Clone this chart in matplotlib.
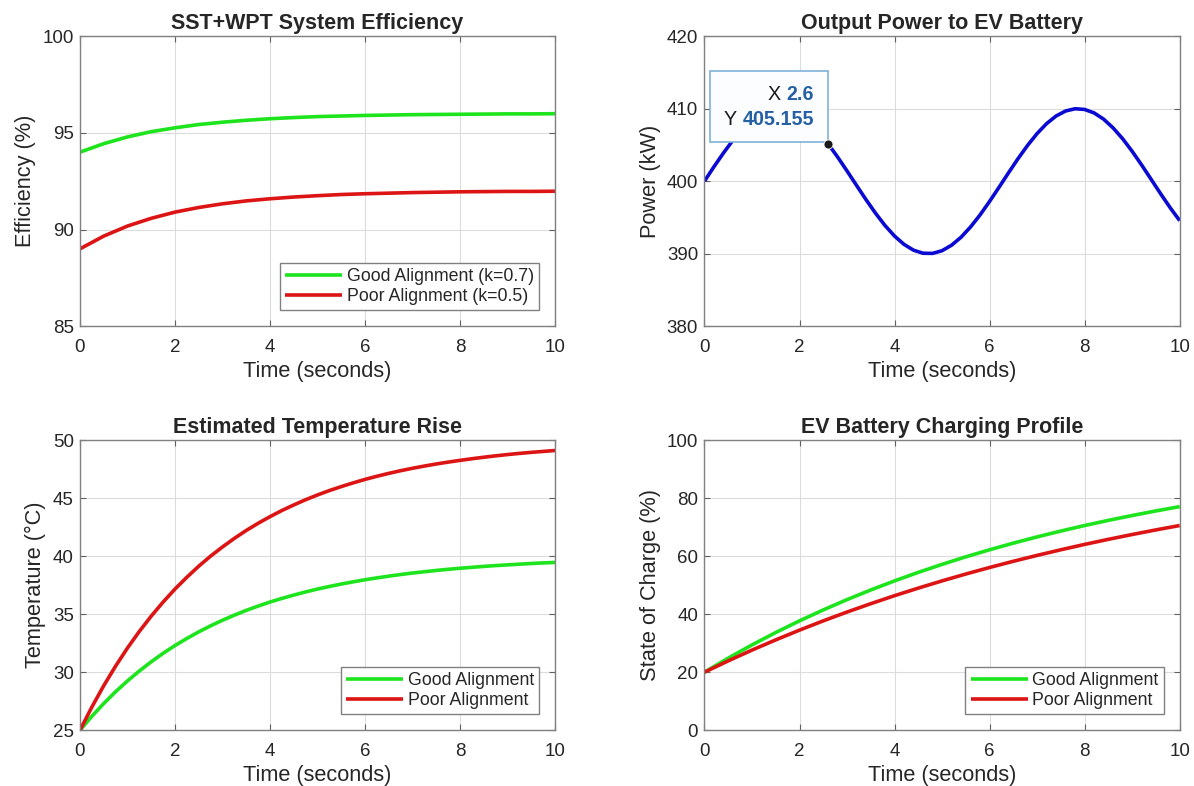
import matplotlib
matplotlib.use("Agg")
import matplotlib.pyplot as plt
from matplotlib.offsetbox import TextArea, HPacker, VPacker, AnnotationBbox

plt.rcParams['font.family'] = ['Liberation Sans', 'DejaVu Sans']

# time axes (seconds)
t_half = [0, 0.5, 1, 1.5, 2, 2.5, 3, 3.5, 4, 4.5, 5, 5.5, 6, 6.5, 7, 7.5, 8, 8.5, 9, 9.5, 10]
t_quarter = [0, 0.25, 0.5, 0.75, 1, 1.25, 1.5, 1.75, 2, 2.25, 2.5, 2.75, 3, 3.25, 3.5, 3.75,
             4, 4.25, 4.5, 4.75, 5, 5.25, 5.5, 5.75, 6, 6.25, 6.5, 6.75, 7, 7.25, 7.5, 7.75,
             8, 8.25, 8.5, 8.75, 9, 9.25, 9.5, 9.75, 10]
t_fifth = [0, 0.2, 0.4, 0.6, 0.8, 1.0, 1.2, 1.4, 1.6, 1.8, 2.0, 2.2, 2.4, 2.6, 2.8, 3.0, 3.2,
           3.4, 3.6, 3.8, 4.0, 4.2, 4.4, 4.6, 4.8, 5.0, 5.2, 5.4, 5.6, 5.8, 6.0, 6.2, 6.4,
           6.6, 6.8, 7.0, 7.2, 7.4, 7.6, 7.8, 8.0, 8.2, 8.4, 8.6, 8.8, 9.0, 9.2, 9.4, 9.6,
           9.8, 10.0]

# efficiency (%)
eff_good = [94.00, 94.44, 94.79, 95.06, 95.26, 95.43, 95.55, 95.65, 95.73, 95.79, 95.84,
            95.87, 95.90, 95.92, 95.94, 95.95, 95.96, 95.97, 95.98, 95.98, 95.99]
eff_poor = [89.00, 89.66, 90.18, 90.58, 90.90, 91.14, 91.33, 91.48, 91.59, 91.68, 91.75,
            91.81, 91.85, 91.88, 91.91, 91.93, 91.95, 91.96, 91.97, 91.97, 91.98]

# output power (kW)
power = [400.00, 401.99, 403.89, 405.65, 407.17, 408.41, 409.32, 409.85, 410.00, 409.74,
         409.09, 408.09, 406.76, 405.16, 403.35, 401.41, 399.42, 397.45, 395.58, 393.88,
         392.43, 391.28, 390.48, 390.06, 390.04, 390.41, 391.17, 392.27, 393.69, 395.35,
         397.21, 399.17, 401.17, 403.12, 404.94, 406.57, 407.94, 408.99, 409.68, 409.99,
         409.89, 409.41, 408.55, 407.34, 405.85, 404.12, 402.23, 400.25, 398.26, 396.34,
         394.56]
tip_x, tip_y = 2.6, 405.155

# temperature (degC)
temp_good = [25.00, 26.20, 27.30, 28.32, 29.25, 30.11, 30.90, 31.63, 32.30, 32.91, 33.48,
             34.00, 34.48, 34.92, 35.33, 35.70, 36.05, 36.36, 36.65, 36.92, 37.17, 37.39,
             37.60, 37.79, 37.97, 38.13, 38.28, 38.42, 38.55, 38.66, 38.77, 38.87, 38.96,
             39.04, 39.12, 39.19, 39.25, 39.31, 39.37, 39.42, 39.46]
temp_poor = [25.00, 27.00, 28.84, 30.53, 32.09, 33.52, 34.84, 36.05, 37.17, 38.19, 39.14,
             40.01, 40.80, 41.54, 42.22, 42.84, 43.41, 43.94, 44.42, 44.87, 45.28, 45.66,
             46.00, 46.32, 46.62, 46.89, 47.14, 47.37, 47.58, 47.77, 47.95, 48.11, 48.26,
             48.40, 48.53, 48.65, 48.76, 48.86, 48.95, 49.03, 49.11]

# state of charge (%)
soc_good = [20.00, 24.85, 29.40, 33.68, 37.70, 41.47, 45.02, 48.35, 51.48, 54.42, 57.18,
            59.78, 62.21, 64.50, 66.65, 68.67, 70.57, 72.35, 74.02, 75.60, 77.08]
soc_poor = [20.00, 23.90, 27.62, 31.14, 34.50, 37.70, 40.74, 43.62, 46.38, 48.99, 51.48,
            53.85, 56.10, 58.24, 60.27, 62.21, 64.06, 65.81, 67.47, 69.06, 70.57]

GREEN = '#1de41d'
RED = '#dc1414'
BLUE = '#0a0ad2'
TXT = '#262626'

fig = plt.figure(figsize=(11.94, 7.86), dpi=100)
W, H = 0.398, 0.369
ax1 = fig.add_axes([0.067, 0.585, W, H])
ax2 = fig.add_axes([0.590, 0.585, W, H])
ax3 = fig.add_axes([0.067, 0.071, W, H])
ax4 = fig.add_axes([0.590, 0.071, W, H])


def style(ax, title, ylabel, ylim, yticks):
    ax.set_xlim(0, 10)
    ax.set_ylim(*ylim)
    ax.set_xticks([0, 2, 4, 6, 8, 10])
    ax.set_yticks(yticks)
    ax.grid(True, color='#dcdcdc', linewidth=0.8)
    ax.set_axisbelow(True)
    for s in ax.spines.values():
        s.set_color('#808080')
        s.set_linewidth(1.0)
    ax.tick_params(direction='in', length=4, width=0.8, color='#606060',
                   labelsize=13.5, labelcolor=TXT, top=True, right=True)
    ax.tick_params(axis='x', pad=9)
    ax.tick_params(axis='y', pad=4.5)
    ax.set_title(title, fontsize=15.5, fontweight='bold', color=TXT, pad=5.5)
    ax.set_xlabel('Time (seconds)', fontsize=15.7, color=TXT, labelpad=4)
    ax.set_ylabel(ylabel, fontsize=15.7, color=TXT, labelpad=4.5)


def legend(ax):
    leg = ax.legend(loc='lower right', fontsize=12.8, fancybox=False, framealpha=1,
                    edgecolor='#808080', handlelength=3.2, borderpad=0.3,
                    labelspacing=0.15, handletextpad=0.25, borderaxespad=0.9)
    leg.get_frame().set_linewidth(1.0)
    for txt in leg.get_texts():
        txt.set_color(TXT)


lw = 2.6
kw = dict(lw=lw, solid_joinstyle='round', solid_capstyle='butt')

ax1.plot(t_half, eff_good, color=GREEN, label='Good Alignment (k=0.7)', **kw)
ax1.plot(t_half, eff_poor, color=RED, label='Poor Alignment (k=0.5)', **kw)
style(ax1, 'SST+WPT System Efficiency', 'Efficiency (%)', (85, 100), [85, 90, 95, 100])
legend(ax1)

ax2.plot(t_fifth, power, color=BLUE, **kw)
style(ax2, 'Output Power to EV Battery', 'Power (kW)', (380, 420), [380, 390, 400, 410, 420])
ax2.plot([tip_x], [tip_y], 'o', ms=6.5, mfc='#1a1a1a', mec='white', mew=0.6, zorder=6)

# data tip box
lab_props = dict(fontsize=14.2, color='#1a1a1a')
val_props = dict(fontsize=14.2, color='#2660a4', fontweight='bold')
row_x = HPacker(children=[TextArea('X ', textprops=lab_props),
                          TextArea('%g' % tip_x, textprops=val_props)], pad=0, sep=0)
row_y = HPacker(children=[TextArea('Y ', textprops=lab_props),
                          TextArea('%g' % tip_y, textprops=val_props)], pad=0, sep=0)
tip_box = VPacker(children=[row_x, row_y], align='right', pad=0, sep=4)
ab = AnnotationBbox(tip_box, (tip_x, tip_y), xybox=(-10, 11), xycoords='data',
                    boxcoords='offset points', box_alignment=(1, 0), pad=1.0,
                    frameon=True, zorder=5,
                    bboxprops=dict(edgecolor='#7fb2d8', facecolor='#fbfdff', lw=1.2,
                                   boxstyle='square,pad=1.0'))
ax2.add_artist(ab)

ax3.plot(t_quarter, temp_good, color=GREEN, label='Good Alignment', **kw)
ax3.plot(t_quarter, temp_poor, color=RED, label='Poor Alignment', **kw)
style(ax3, 'Estimated Temperature Rise', 'Temperature (°C)', (25, 50), [25, 30, 35, 40, 45, 50])
legend(ax3)

ax4.plot(t_half, soc_good, color=GREEN, label='Good Alignment', **kw)
ax4.plot(t_half, soc_poor, color=RED, label='Poor Alignment', **kw)
style(ax4, 'EV Battery Charging Profile', 'State of Charge (%)', (0, 100), [0, 20, 40, 60, 80, 100])
legend(ax4)

fig.savefig('out.png', dpi=100, facecolor='white')
